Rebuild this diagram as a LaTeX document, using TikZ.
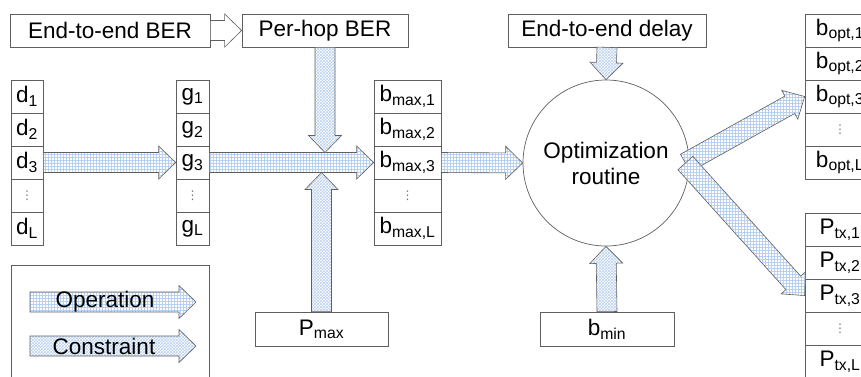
\documentclass[tikz,border=0pt]{standalone}
\usepackage{fontspec}
\setmainfont{Liberation Sans}
\newfontfamily\symfont{DejaVu Sans}
\usetikzlibrary{calc,patterns}

\definecolor{patblue}{RGB}{186,208,240}
\definecolor{edge}{RGB}{95,95,95}

\newcommand{\vdotcell}{\textcolor{black!55}{\symfont\fontsize{12}{12}\selectfont ⋮}}
\newcommand{\blockarrow}[3][]{%
  \draw[#1] let \p1=(#2), \p2=(#3),
    \n1={atan2(\y2-\y1,\x2-\x1)}, \n2={veclen(\x2-\x1,\y2-\y1)} in
    {[shift={(\p1)}, rotate=\n1, x=1pt, y=1pt]
    (0,-10) -- (\n2-17,-10) -- (\n2-17,-16.5) -- (\n2,0) -- (\n2-17,16.5) -- (\n2-17,10) -- (0,10) -- cycle};
}

\tikzset{
  box/.style={draw=edge, line width=0.7pt, minimum height=33pt, inner sep=0pt},
  cell/.style={box},
  operation/.style={draw=edge, line width=0.6pt, preaction={fill=white}, pattern=grid, pattern color=patblue},
  constraint/.style={draw=edge, line width=0.6pt, preaction={fill=white}, pattern=crosshatch, pattern color=patblue},
  hollow/.style={draw=edge, line width=0.6pt, fill=white}
}

\begin{document}
\begin{tikzpicture}[x=1pt, y=-1pt, font=\fontsize{22.5}{26}\selectfont]
\useasboundingbox (0,0) rectangle (861,376);

% inputs on top
\node[box, minimum width=200pt] (ber) at (110,30.5) {End-to-end BER};
\node[box, minimum width=166pt] (perhop) at (325,30.5) {Per-hop BER};
\node[box, minimum width=198pt] (delay) at (607,30.5) {End-to-end delay};

% columns
\foreach \i/\s in {1/1,2/2,3/3,4/{},5/L} {
  \node[cell, minimum width=32pt] (d\i) at (27,63.5+33*\i) {\ifnum\i=4 \vdotcell\else d\textsubscript{\s}\fi};
  \node[cell, minimum width=33pt] (g\i) at (192.5,63.5+33*\i) {\ifnum\i=4 \vdotcell\else g\textsubscript{\s}\fi};
  \node[cell, minimum width=67pt] (bmax\i) at (407.5,63.5+33*\i) {\ifnum\i=4 \vdotcell\else b\textsubscript{max,\s}\fi};
  \node[cell, minimum width=70pt] (bopt\i) at (840,-2.5+33*\i) {\ifnum\i=4 \vdotcell\else b\textsubscript{opt,\s}\fi};
  \node[cell, minimum width=70pt] (ptx\i) at (840,196.5+33*\i) {\ifnum\i=4 \vdotcell\else P\textsubscript{tx,\s}\fi};
}

\node[circle, draw=edge, line width=0.7pt, minimum size=166pt, inner sep=0pt, align=center] (opt) at (606,163) {Optimization\\routine};

\node[box, minimum width=133pt, minimum height=34pt] (pmax) at (321.5,329) {P\textsubscript{max}};
\node[box, minimum width=134pt, minimum height=34pt] (bmin) at (607,329) {b\textsubscript{min}};

% legend
\node[box, minimum width=198pt, minimum height=115pt] (legend) at (110,322.5) {};
\coordinate (op1) at (30,302);
\coordinate (op2) at (196,302);
\coordinate (co1) at (30,346);
\coordinate (co2) at (196,346);

% arrows
\coordinate (hopend) at ($(perhop.south |- g3.center)+(0,-10)$);
\coordinate (pmaxend) at ($(pmax.north |- g3.center)+(0,10)$);
\coordinate (optout) at ($(opt.east)+(-4,0)$);

\blockarrow[hollow]{ber.east}{perhop.west}
\blockarrow[operation]{d3.east}{g3.west}
\blockarrow[operation]{g3.east}{bmax3.west}
\blockarrow[constraint]{perhop.south}{hopend}
\blockarrow[constraint]{pmax.north}{pmaxend}
\blockarrow[operation]{bmax3.east}{opt.west}
\blockarrow[constraint]{delay.south}{opt.north}
\blockarrow[constraint]{bmin.north}{opt.south}
\blockarrow[operation]{optout}{bopt3.west}
\blockarrow[operation]{optout}{ptx3.west}

\blockarrow[operation]{op1}{op2}
\blockarrow[constraint]{co1}{co2}
\node (oplabel) at (105,302) {Operation};
\node (colabel) at (104,346) {Constraint};
\end{tikzpicture}
\end{document}
